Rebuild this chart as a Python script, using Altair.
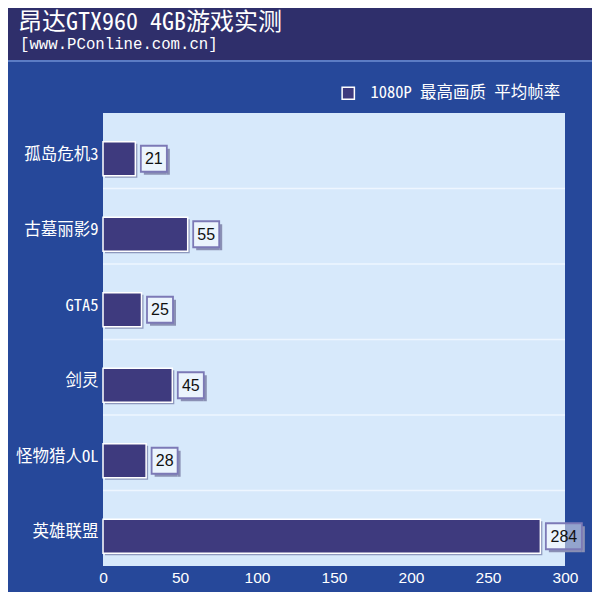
import altair as alt
import pandas as pd

# ---- data ----
games = ["孤岛危机3", "古墓丽影9", "GTA5", "剑灵", "怪物猎人OL", "英雄联盟"]
fps = [21, 55, 25, 45, 28, 284]
series_name = "1080P 最高画质 平均帧率"
x_ticks = [0, 50, 100, 150, 200, 250, 300]
title_text = "昂达GTX960\u00a04GB游戏实测"
subtitle_text = "[www.PConline.com.cn]"

df = pd.DataFrame({"game": games, "fps": fps, "series": [series_name] * len(games)})

W, H = 462, 453
BAND = H / len(games)

CJK = "Noto Sans Mono CJK SC, Noto Sans CJK SC"
LAT = "Liberation Sans"
BAR_COLOR = "#3e3a7e"

x_scale = alt.Scale(domain=[0, 300], nice=False, zero=True)
y_scale = alt.Scale(domain=games, paddingInner=0, paddingOuter=0)

x_enc = alt.X("fps:Q", scale=x_scale, title=None,
              axis=alt.Axis(values=x_ticks, labelColor="white", labelFont=LAT,
                            labelFontSize=15.5, ticks=False, domain=False, grid=False,
                            labelPadding=4.5, labelFlush=False))
y_enc = alt.Y("game:N", scale=y_scale, sort=games, title=None,
              axis=alt.Axis(labelColor="white", labelFont=CJK, labelFontSize=16.5,
                            labelFontWeight=500,
                            labelPadding=5, ticks=False, domain=False, grid=False,
                            labelOffset=4, labelLimit=200))

base = alt.Chart(df)
one = alt.Data(values=[{"k": 1}])

# header band
header = alt.Chart(one).mark_rect(color="#2f2f6b").encode(
    x=alt.value(-95), x2=alt.value(489), y=alt.value(-105), y2=alt.value(-53))
header_line = alt.Chart(one).mark_rect(color="#5b7cc4").encode(
    x=alt.value(-95), x2=alt.value(489), y=alt.value(-53), y2=alt.value(-51))
title = alt.Chart(one).mark_text(
    text=title_text, font=CJK, fontSize=24, fontWeight=500, color="white", align="left",
    baseline="middle").encode(x=alt.value(-85), y=alt.value(-90))
subtitle = alt.Chart(one).mark_text(
    text=subtitle_text, font="Liberation Mono", fontSize=15.7, color="white",
    align="left", baseline="middle").encode(x=alt.value(-83), y=alt.value(-69))

# horizontal separators between categories
grid = base.mark_rule(color="#eef6ff", strokeWidth=1.5, yOffset=-BAND / 2).encode(
    y=y_enc, x=alt.value(0), x2=alt.value(W)
).transform_filter(alt.FieldOneOfPredicate(field="game", oneOf=games[1:]))

shadow = base.mark_bar(color="#8d98bd", size=34, xOffset=2, x2Offset=2, yOffset=10).encode(
    x=x_enc, y=y_enc)
bars = base.mark_bar(size=34, yOffset=8, stroke="white", strokeWidth=1.5).encode(
    x=x_enc, y=y_enc,
    color=alt.Color("series:N", scale=alt.Scale(range=[BAR_COLOR]),
                    legend=alt.Legend(title=None, orient="none", legendX=237, legendY=-28,
                                      symbolType="square", symbolSize=150,
                                      symbolFillColor=BAR_COLOR,
                                      symbolStrokeColor="white", symbolStrokeWidth=1.5,
                                      labelColor="white", labelFont=CJK, labelFontSize=16.5,
                                      labelFontWeight=500, labelLimit=400,
                                      labelOffset=14, padding=0)))


def label_layers(cond, width):
    sub = base.transform_filter(cond)
    off = 5.5
    h = 26
    sh_col = "#8a90b4"
    right_sh = sub.mark_bar(color=sh_col, size=h, xOffset=off + width,
                            x2Offset=off + width + 3, yOffset=8 + 3).encode(
        x=x_enc, x2=alt.X2("fps"), y=y_enc)
    bottom_sh = sub.mark_bar(color=sh_col, size=3, xOffset=off + 3,
                             x2Offset=off + width, yOffset=8 + h / 2 + 1.5).encode(
        x=x_enc, x2=alt.X2("fps"), y=y_enc)
    box = sub.mark_bar(color="white", fillOpacity=0.5, size=h, xOffset=off,
                       x2Offset=off + width, yOffset=8, stroke="#7c79b6",
                       strokeWidth=1.8).encode(
        x=x_enc, x2=alt.X2("fps"), y=y_enc)
    txt = sub.mark_text(font=LAT, fontSize=16, color="#111111", align="center",
                        baseline="middle", xOffset=off + width / 2, yOffset=8.5).encode(
        x=x_enc, y=y_enc, text="fps:Q")
    return [right_sh, bottom_sh, box, txt]


small = label_layers("datum.fps < 100", 26)
big = label_layers("datum.fps >= 100", 36)

chart = alt.layer(
    header, header_line, title, subtitle, grid, shadow, bars, *small, *big
).properties(
    width=W, height=H, background="#26489a",
    padding={"left": 95, "top": 105, "right": 27, "bottom": 26},
    autosize=alt.AutoSizeParams(type="none"),
).configure_view(fill="#d7e9fb", strokeWidth=0)

chart.save("out.html", embed_options={"renderer": "svg", "actions": False})
